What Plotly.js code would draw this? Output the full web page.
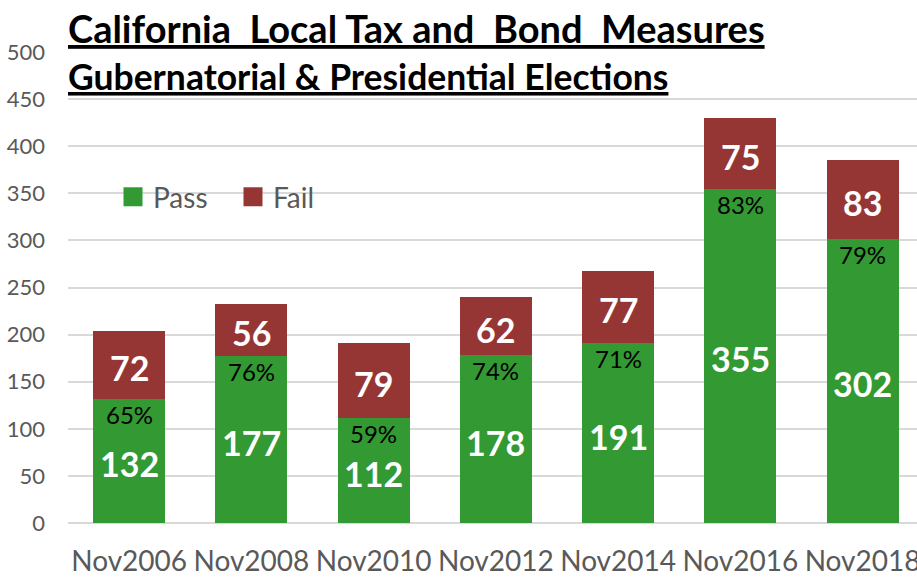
<!DOCTYPE html>
<html>
<head>
<meta charset="utf-8">
<script src="https://cdn.plot.ly/plotly-3.0.1.min.js"></script>
<style>
html,body{margin:0;padding:0;background:#fff;}
#chart{width:917px;height:579px;}
</style>
</head>
<body>
<div id="chart"></div>
<script>
// ---- data ----
const categories = ["Nov2006","Nov2008","Nov2010","Nov2012","Nov2014","Nov2016","Nov2018"];
const passValues = [132, 177, 112, 178, 191, 355, 302];
const failValues = [72, 56, 79, 62, 77, 75, 83];
const passPctLabels = ["65%","76%","59%","74%","71%","83%","79%"];
const yTickValues = [0, 50, 100, 150, 200, 250, 300, 350, 400, 450, 500];
const titleLine1 = "California\u00a0 Local Tax and\u00a0 Bond\u00a0 Measures";
const titleLine2 = "Gubernatorial & Presidential Elections";

const FONT = "Lato, 'Open Sans', sans-serif";
const GREEN = "#339933";
const RED = "#963634";

const passTrace = {
  type: "bar", name: "Pass", x: categories, y: passValues,
  marker: {color: GREEN}, hoverinfo: "skip"
};
const failTrace = {
  type: "bar", name: "Fail", x: categories, y: failValues,
  marker: {color: RED}, hoverinfo: "skip"
};

const valueFont = {family: FONT, size: 34, color: "#ffffff", weight: 700};
const passValueAnnotations = categories.map((c, i) => ({
  x: c, y: passValues[i] / 2, xref: "x", yref: "y",
  text: "<b>" + passValues[i] + "</b>", showarrow: false, yanchor: "middle", yshift: -3,
  font: valueFont
}));
const failValueAnnotations = categories.map((c, i) => ({
  x: c, y: passValues[i] + failValues[i] / 2, xref: "x", yref: "y",
  text: "<b>" + failValues[i] + "</b>", showarrow: false, yanchor: "middle", yshift: -3,
  font: valueFont
}));
const pctAnnotations = categories.map((c, i) => ({
  x: c, y: passValues[i], xref: "x", yref: "y",
  text: passPctLabels[i], showarrow: false, yanchor: "top", yshift: 1,
  font: {family: FONT, size: 24, color: "#000000"}
}));

const titleAnnotations = [
  {xref: "paper", yref: "paper", x: -0.002, y: 1.05, xanchor: "left", yanchor: "middle",
   text: "<b>" + titleLine1 + "</b>", showarrow: false,
   font: {family: FONT, size: 38, color: "#000000", lineposition: "under"}},
  {xref: "paper", yref: "paper", x: -0.002, y: 0.948, xanchor: "left", yanchor: "middle",
   text: "<b>" + titleLine2 + "</b>", showarrow: false,
   font: {family: FONT, size: 35.5, color: "#000000", lineposition: "under"}}
];

const layout = {
  width: 917, height: 579,
  margin: {l: 68, r: 0, t: 52, b: 56, pad: 0},
  paper_bgcolor: "#ffffff", plot_bgcolor: "#ffffff",
  barmode: "stack", bargap: 0.41,
  showlegend: true,
  legend: {orientation: "h", x: 0.053, y: 0.692, xanchor: "left", yanchor: "middle",
           font: {family: FONT, size: 28, color: "#595959"}, bgcolor: "rgba(0,0,0,0)",
           traceorder: "normal", entrywidth: 75, entrywidthmode: "pixels"},
  xaxis: {type: "category", range: [-0.5, 6.445], showgrid: false, showline: false,
          zeroline: false, ticks: "", ticklabelstandoff: 19,
          tickfont: {family: FONT, size: 28, color: "#595959"}, fixedrange: true},
  yaxis: {range: [0, 500], tickvals: yTickValues, showgrid: true, gridcolor: "#d9d9d9",
          gridwidth: 2, zeroline: true, zerolinecolor: "#d9d9d9", zerolinewidth: 2,
          showline: false, ticks: "", ticklabelstandoff: 22,
          tickfont: {family: FONT, size: 22, color: "#595959"}, fixedrange: true},
  annotations: titleAnnotations.concat(passValueAnnotations, failValueAnnotations, pctAnnotations),
  hovermode: false
};

Plotly.newPlot("chart", [passTrace, failTrace], layout, {displayModeBar: false, staticPlot: true})
  .then(gd => {
    // enlarge legend swatches to match the reference's larger squares
    gd.querySelectorAll(".legendpoints path.legendundefined, .legendpoints path").forEach(p => {
      p.setAttribute("d", "M9.5,9.5H-9.5V-9.5H9.5Z");
    });
  });
</script>
</body>
</html>
